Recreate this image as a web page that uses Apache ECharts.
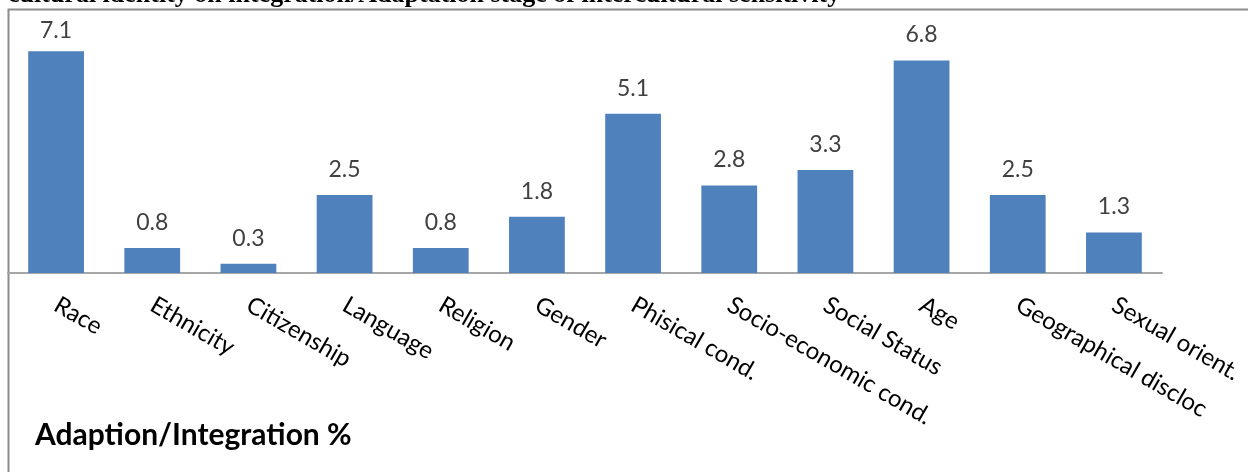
<!DOCTYPE html>
<html><head><meta charset="utf-8">
<script src="https://cdn.jsdelivr.net/npm/echarts@6/dist/echarts.min.js"></script>
<style>html,body{margin:0;padding:0;background:#fff}#c{width:1248px;height:472px}</style>
</head><body><div id="c"></div>
<script>
const categories = ["Race","Ethnicity","Citizenship","Language","Religion","Gender","Phisical cond.","Socio-economic cond.","Social Status","Age","Geographical discloc","Sexual orient."];
const values = [7.1,0.8,0.3,2.5,0.8,1.8,5.1,2.8,3.3,6.8,2.5,1.3];
const titleText = "cultural identity on integration/Adaptation stage of intercultural sensitivity";
const footerText = "Adaption/Integration %";

const maxV = Math.max(...values);
const seriesData = values.map(v => v === maxV ? {value:v, label:{distance:9}} : v);

const chart = echarts.init(document.getElementById('c'), null, {renderer:'canvas'});
chart.setOption({
  animation:false,
  backgroundColor:'#fff',
  grid:{left:8,right:86,top:23,bottom:199,containLabel:false},
  xAxis:{type:'category',data:categories,
    axisLine:{lineStyle:{color:'#A6A6A6',width:2}},
    axisTick:{show:false},
    axisLabel:{interval:0,rotate:-30,margin:30,color:'#000',fontFamily:'Lato',fontSize:24}
  },
  yAxis:{type:'value',min:0,max:8,show:false,splitLine:{show:false}},
  series:[{type:'bar',data:seriesData,barWidth:'58%',
    itemStyle:{color:'#4F81BD'},
    label:{show:true,position:'top',distance:14,color:'#404040',fontFamily:'Lato',fontSize:23,
      formatter:p=>Number(p.value).toFixed(1)}
  }],
  graphic:[
    {type:'rect',shape:{x:8.5,y:9.5,width:1300,height:600},style:{fill:'none',stroke:'#8C8C8C',lineWidth:2},silent:true,z:-1},
    {type:'text',x:8,y:8,style:{text:titleText,font:'bold 26px "Liberation Serif"',fill:'#000',verticalAlign:'bottom'}},
    {type:'text',x:35,y:435,style:{text:footerText,font:'bold 30px Lato',fill:'#000',verticalAlign:'middle'}}
  ]
});
</script></body></html>
